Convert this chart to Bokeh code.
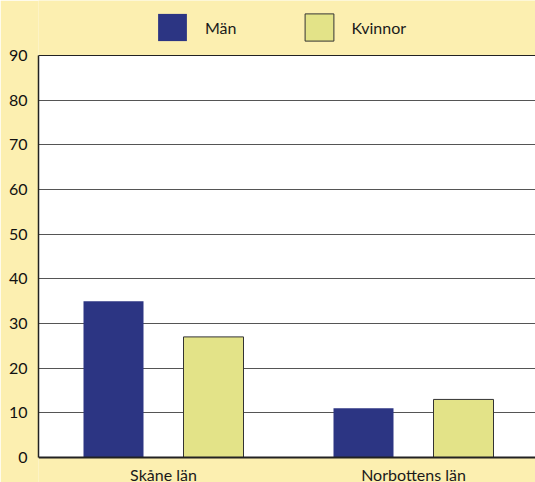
from bokeh.plotting import figure
from bokeh.models import Range1d, FixedTicker, Legend, LegendItem, ColumnDataSource, Span
from bokeh.core.properties import value
from bokeh.embed import file_html
from bokeh.resources import INLINE

categories = ["Skåne län", "Norbottens län"]
man = [35, 11]
kvinnor = [27, 13]
y_ticks = [0, 10, 20, 30, 40, 50, 60, 70, 80, 90]
y_max = 90

BG = "#fcefb0"
NAVY = "#2c3583"
LIME = "#e3e388"
FONT = "Lato"

# pixel layout: value 90 at y=55, value 0 at y=457 in a 482px tall frame
PX_PER_UNIT = (457 - 55) / y_max
y_start = -(482 - 457) / PX_PER_UNIT
y_end = y_max + 55 / PX_PER_UNIT

centers = [i + 0.5 for i in range(len(categories))]
src = ColumnDataSource(dict(
    x_m=[c - 0.2 for c in centers],
    x_k=[c + 0.2 for c in centers],
    man=man,
    kvinnor=kvinnor,
))

p = figure(width=535, height=482, output_backend="svg", toolbar_location=None,
           x_range=Range1d(0, 1.988), y_range=Range1d(y_start, y_end),
           x_axis_location=None,
           min_border_left=38, min_border_right=0, min_border_top=0,
           min_border_bottom=0)
p.background_fill_color = BG
p.border_fill_color = BG
p.outline_line_color = None

# white plotting area
p.quad(left=[0], right=[2.1], bottom=[0], top=[y_max], fill_color="white",
       line_color=None, level="image")

r1 = p.vbar(x="x_m", top="man", width=0.24, source=src, fill_color=NAVY, line_color=None)
r2 = p.vbar(x="x_k", top="kvinnor", width=0.24, source=src, fill_color=LIME,
            line_color="#333333", line_width=1)

p.xgrid.visible = False
p.ygrid.ticker = FixedTicker(ticks=y_ticks)
p.ygrid.grid_line_color = "#555555"
p.ygrid.grid_line_width = 1

p.add_layout(Span(location=0, dimension="width", line_color="#222222", line_width=2))
p.add_layout(Span(location=y_max, dimension="width", line_color="#222222", line_width=1.2))

p.yaxis.ticker = FixedTicker(ticks=y_ticks)
p.yaxis.bounds = (0, y_max)
p.yaxis.major_tick_line_color = None
p.yaxis.minor_tick_line_color = None
p.yaxis.axis_line_color = "#222222"
p.yaxis.axis_line_width = 1.5
p.yaxis.major_label_standoff = 5
p.yaxis.major_label_text_font = FONT
p.yaxis.major_label_text_font_size = "16px"
p.yaxis.major_label_text_color = "#111111"

# category labels
p.text(x=centers, y=[0] * len(centers), text=categories,
       text_font=value(FONT), text_font_size="16px", text_color="#1a1a1a",
       text_align="center", text_baseline="top", y_offset=7)

legend = Legend(items=[LegendItem(label="Män", renderers=[r1]),
                       LegendItem(label="Kvinnor", renderers=[r2])],
                orientation="horizontal", location=(116, 438),
                glyph_width=36, glyph_height=34, label_standoff=15, spacing=64,
                padding=0, margin=0, border_line_color=None,
                background_fill_alpha=0,
                label_text_font=FONT, label_text_font_size="16px",
                label_text_color="#1a1a1a")
p.add_layout(legend, "center")

open("out.html", "w").write(file_html(p, INLINE))
